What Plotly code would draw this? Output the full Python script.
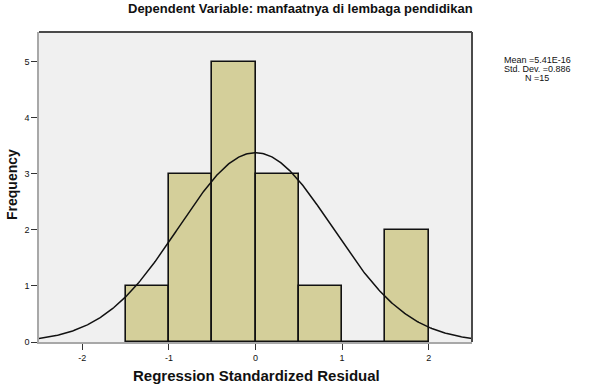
import numpy as np
import plotly.graph_objects as go

# Data
bin_left = [-1.5, -1.0, -0.5, 0.0, 0.5, 1.0, 1.5]
bin_width = 0.5
counts = [1, 3, 5, 3, 1, 0, 2]
mean_text = "5.41E-16"
mean_val = 5.41e-16
std_val = 0.886
n_val = 15
x_ticks = [-2, -1, 0, 1, 2]
y_ticks = [0, 1, 2, 3, 4, 5]

centers = [b + bin_width / 2 for b in bin_left]

xs = np.linspace(-2.5, 2.5, 400)
ys = n_val * bin_width / (std_val * np.sqrt(2 * np.pi)) * np.exp(-0.5 * ((xs - mean_val) / std_val) ** 2)

fig = go.Figure()
fig.add_trace(go.Bar(
    x=centers, y=counts, width=bin_width,
    marker=dict(color="#d4cf9a", line=dict(color="#111111", width=1.6)),
    hoverinfo="skip",
))
fig.add_trace(go.Scatter(
    x=xs, y=ys, mode="lines",
    line=dict(color="#111111", width=1.5),
    hoverinfo="skip",
))

font_family = "Liberation Sans, Arial, sans-serif"
W, H = 594, 385
ML, MR, MT, MB = 39, 122, 32, 43
PW, PH = W - ML - MR, H - MT - MB

fig.update_layout(
    width=W, height=H,
    margin=dict(l=ML, r=MR, t=MT, b=MB, autoexpand=False),
    paper_bgcolor="white",
    plot_bgcolor="#f0f0f0",
    showlegend=False,
    bargap=0,
    font=dict(family=font_family, color="#111111", size=9),
    xaxis=dict(
        range=[-2.5, 2.5], tickvals=x_ticks, ticktext=[str(v) for v in x_ticks],
        showgrid=False, zeroline=False, showline=True, linecolor="#a8a8a8", linewidth=1.5,
        ticks="outside", ticklen=6, tickcolor="#333333", tickwidth=1,
        ticklabelstandoff=0, automargin=False,
        tickfont=dict(size=9),
    ),
    yaxis=dict(
        range=[0, 5.53], tickvals=y_ticks,
        showgrid=False, zeroline=False, showline=True, linecolor="#a8a8a8", linewidth=1.5,
        ticks="outside", ticklen=6, tickcolor="#333333", tickwidth=1,
        ticklabelstandoff=0, automargin=False,
        tickfont=dict(size=9),
    ),
    shapes=[
        dict(type="line", xref="paper", yref="paper", x0=0, x1=1, y0=1, y1=1,
             line=dict(color="#4a4a4a", width=2)),
        dict(type="line", xref="paper", yref="paper", x0=1, x1=1, y0=0, y1=1,
             line=dict(color="#4a4a4a", width=2)),
    ],
)


def px_x(x):
    return (x - ML) / PW


def px_y(y):
    return 1 - (y - MT) / PH


stats_lines = ["Mean =%s" % mean_text, "Std. Dev. =%.3f" % std_val, "N =%d" % n_val]
annotations = [
    dict(text="<b>Dependent Variable: manfaatnya di lembaga pendidikan</b>",
         xref="paper", yref="paper", x=px_x(300), y=px_y(9),
         yanchor="middle", xanchor="center", showarrow=False, font=dict(size=13)),
    dict(text="<b>Regression Standardized Residual</b>",
         xref="paper", yref="paper", x=px_x(256), y=px_y(375),
         yanchor="middle", xanchor="center", showarrow=False, font=dict(size=15)),
    dict(text="<b>Frequency</b>", textangle=-90,
         xref="paper", yref="paper", x=px_x(12), y=px_y(185),
         yanchor="middle", xanchor="center", showarrow=False, font=dict(size=14)),
]
for i, line in enumerate(stats_lines):
    annotations.append(dict(
        text=line, xref="paper", yref="paper", x=px_x(537), y=px_y(60 + 9 * i),
        xanchor="center", yanchor="middle", showarrow=False, font=dict(size=9)))
fig.update_layout(annotations=annotations)

fig.write_html("out.html")
